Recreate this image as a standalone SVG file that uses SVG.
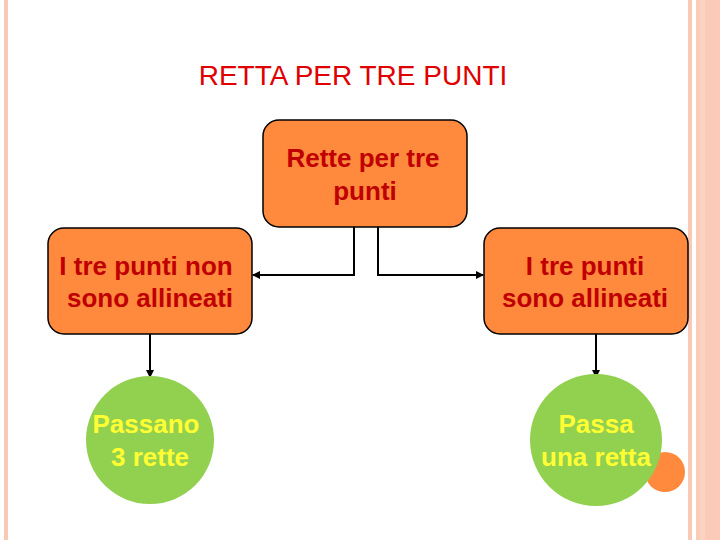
<svg xmlns="http://www.w3.org/2000/svg" width="720" height="540" viewBox="0 0 720 540">
<style>
.box{fill:#FF8A3D;stroke:#000;stroke-width:1.5}
.bt{font-family:"Liberation Sans",Arial,sans-serif;font-size:26px;font-weight:bold;fill:#C00000;text-anchor:middle}
.ct{font-family:"Liberation Sans",Arial,sans-serif;font-size:26px;font-weight:bold;fill:#FFFF33;text-anchor:middle}
.c{fill:#92D050}
.ln{fill:none;stroke:#000;stroke-width:2}
</style>
<defs><marker id="a" markerWidth="8" markerHeight="8" refX="7" refY="4" orient="auto" markerUnits="userSpaceOnUse"><path d="M0,0L8,4L0,8z" fill="#000"/></marker></defs>
<rect width="720" height="540" fill="#fff"/>
<rect x="4" y="0" width="4" height="540" fill="#F9C9B5"/>
<rect x="688" y="0" width="4" height="540" fill="#F9C9B5"/>
<rect x="696" y="0" width="24" height="540" fill="#FBCBB7"/>
<rect x="700" y="0" width="5" height="540" fill="#FAD3C3"/>
<text x="353" y="85" font-family="Liberation Sans,Arial,sans-serif" font-size="28" fill="#E00000" text-anchor="middle">RETTA PER TRE PUNTI</text>
<g id="connectors">
<path class="ln" d="M354,227V275H253" marker-end="url(#a)"/>
<path class="ln" d="M378,227V275H483" marker-end="url(#a)"/>
<path class="ln" d="M150,334V377" marker-end="url(#a)"/>
<path class="ln" d="M596,334V377" marker-end="url(#a)"/>
</g>
<g id="n1"><rect class="box" x="263" y="120" width="204" height="107" rx="16"/><text class="bt" x="363" y="167">Rette per tre</text><text class="bt" x="365" y="200">punti</text></g>
<g id="n2"><rect class="box" x="48" y="228" width="204" height="106" rx="16"/><text class="bt" x="146" y="275">I tre punti non</text><text class="bt" x="150" y="307">sono allineati</text></g>
<g id="n3"><rect class="box" x="484" y="228" width="204" height="106" rx="16"/><text class="bt" x="585" y="275">I tre punti</text><text class="bt" x="585" y="307">sono allineati</text></g>
<g id="n4"><circle class="c" cx="150" cy="440" r="64"/><text class="ct" x="146" y="433">Passano</text><text class="ct" x="150" y="466">3 rette</text></g>
<g id="deco"><circle cx="665" cy="472" r="20" fill="#FF8A3D"/></g>
<g id="n5"><circle class="c" cx="596" cy="440" r="66"/><text class="ct" x="596" y="433">Passa</text><text class="ct" x="596" y="466">una retta</text></g>
</svg>
